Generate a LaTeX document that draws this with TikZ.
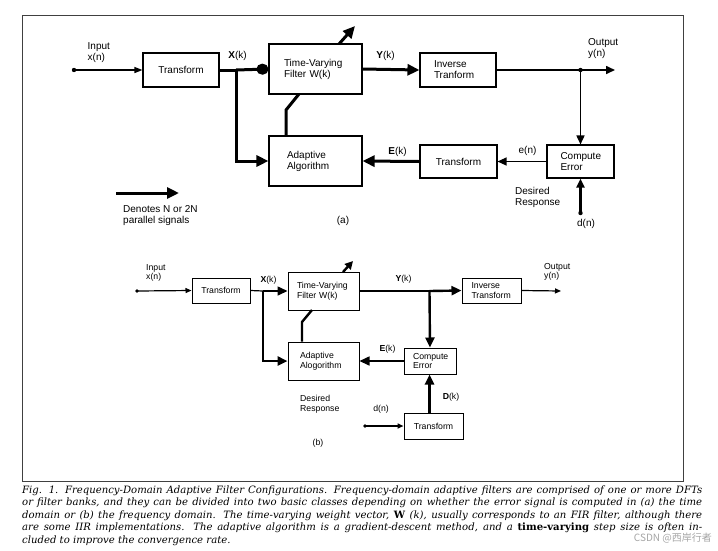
\documentclass[tikz,border=0pt]{standalone}
\usepackage{fontspec}
\setmainfont{Liberation Sans}
\newfontfamily\capfont{DejaVu Serif}
\newfontfamily\cjk{Noto Sans CJK SC}
\usetikzlibrary{arrows.meta}
\begin{document}
\begin{tikzpicture}[x=1pt,y=-1pt,
  boxa/.style={draw, line width=1.1pt, inner sep=0pt, font=\fontsize{10}{11}\selectfont},
  boxb/.style={draw, line width=1pt, inner sep=0pt, font=\fontsize{8.7}{9.7}\selectfont},
  lbla/.style={inner sep=0pt, align=left, font=\fontsize{10}{11}\selectfont},
  lblb/.style={inner sep=0pt, align=left, font=\fontsize{8.7}{9.7}\selectfont},
  thk/.style={line width=3pt, line join=miter},
  thkb/.style={line width=2.4pt, line join=miter},
  medl/.style={line width=1.6pt},
  thn/.style={line width=1.2pt},
  bigtip/.style={-{Triangle[length=12pt,width=11pt]}},
  midtip/.style={-{Triangle[length=9pt,width=8pt]}},
  smltip/.style={-{Triangle[length=8pt,width=6pt]}},
  btip/.style={-{Triangle[length=10pt,width=9pt]}},
  bstip/.style={-{Triangle[length=6pt,width=5pt]}},
  capline/.style={inner sep=0pt, anchor=base west, font=\capfont\itshape\fontsize{10.1}{12}\selectfont}
]
\useasboundingbox (0,0) rectangle (718,550);
\fill[white] (0,0) rectangle (718,550);
\draw[line width=0.8pt, black!75] (22,15) rectangle (683,481);

% ---------------- (a) ----------------
\node[boxa, minimum width=76pt, minimum height=34pt] (T1) at (181,70) {Transform};
\node[boxa, minimum width=93pt, minimum height=50pt, text width=63pt, align=left] (F1) at (315.5,69) {Time-Varying\\Filter W(k)};
\node[boxa, minimum width=93pt, minimum height=50pt, text width=57pt, align=left] (A1) at (315.5,161) {Adaptive\\Algorithm};
\node[boxa, minimum width=76pt, minimum height=34pt, text width=48pt, align=left] (I1) at (458,70) {Inverse\\Tranform};
\node[boxa, minimum width=67pt, minimum height=33pt, text width=40pt, align=left] (C1) at (580.5,161.5) {Compute\\Error};
\node[boxa, minimum width=77pt, minimum height=33pt] (T2) at (458.5,161.5) {Transform};

\coordinate (xin) at (74,70);
\coordinate (j1) at (236,70);
\coordinate (j2) at (580.5,70);
\coordinate (out1) at (615,70);
\coordinate (dn) at (580.5,213);
\coordinate (ak) at (286,110);
\coordinate (ak2) at (299,94);
\coordinate (dg1) at (339,44);
\coordinate (dg2) at (355,26);
\coordinate (lg1) at (116,193);
\coordinate (lg2) at (179,193);

\draw[thn, smltip] (xin) -- (T1.west);
\fill (xin) circle (2.2pt);
\draw[thk] (T1.east) -- (j1);
\draw[thk, -{Circle[length=12pt,width=11pt]}] (j1) -- (F1.west);
\draw[thk, bigtip] (j1) |- (A1.west);
\draw[thk, bigtip] (F1.east) -- (I1.west);
\draw[medl] (I1.east) -- (j2);
\draw[medl, midtip] (j2) -- (out1);
\fill (j2) circle (2.2pt);
\draw[medl, midtip] (j2) -- (C1.north);
\draw[thn, midtip] (C1.west) -- (T2.east);
\draw[thk, bigtip] (T2.west) -- (A1.east);
\draw[thkb, midtip] (dn) -- (C1.south);
\fill (dn) circle (2.2pt);
\draw[thk] (A1.north -| ak) -- (ak) -- (ak2);
\draw[thk, bigtip] (dg1) -- (dg2);
\draw[thk, bigtip] (lg1) -- (lg2);

\node[lbla, anchor=west] (lin) at (87.5,52.5) {Input\\x(n)};
\node[lbla] (lx) at (237.5,56) {\textbf{X}(k)};
\node[lbla] (ly) at (385.5,56) {\textbf{Y}(k)};
\node[lbla, anchor=west] (lout) at (588,48.5) {Output\\y(n)};
\node[lbla] (le) at (527.5,151) {e(n)};
\node[lbla] (lE) at (397.5,152) {\textbf{E}(k)};
\node[lbla, anchor=west] (ldes) at (515,197.5) {Desired\\Response};
\node[lbla] (ld) at (586,224) {d(n)};
\node[lbla, anchor=west] (lleg) at (123,216) {Denotes N or 2N\\parallel signals};
\node[lbla] (la) at (343,221) {(a)};

% ---------------- (b) ----------------
\node[boxb, minimum width=58pt, minimum height=25pt] (Tb1) at (221,290.5) {Transform};
\node[boxb, minimum width=71pt, minimum height=38pt, text width=53pt, align=left] (Fb) at (323.5,291) {Time-Varying\\Filter W(k)};
\node[boxb, minimum width=71pt, minimum height=38pt, text width=47pt, align=left] (Ab) at (323.5,361) {Adaptive\\Alogorithm};
\node[boxb, minimum width=59pt, minimum height=25pt, text width=40pt, align=left] (Ib) at (491.5,290.5) {Inverse\\Transform};
\node[boxb, minimum width=52pt, minimum height=26pt, text width=34pt, align=left] (Cb) at (430,361) {Compute\\Error};
\node[boxb, minimum width=59pt, minimum height=26pt] (Tb2) at (433.5,426) {Transform};

\coordinate (xb) at (137,291);
\coordinate (jb1) at (263,291);
\coordinate (jb2) at (429.5,291);
\coordinate (outb) at (561,291);
\coordinate (dnb) at (365,426);
\coordinate (bk) at (302,322);
\coordinate (bk2) at (312,310);
\coordinate (bd1) at (343,272);
\coordinate (bd2) at (353,261);

\draw[thn, bstip] (xb) -- (Tb1.west);
\fill (xb) circle (1.8pt);
\draw[thn] (Tb1.east) -- (jb1);
\draw[medl, btip] (jb1) -- (Fb.west);
\draw[thkb, btip] (jb1) |- (Ab.west);
\draw[thkb] (Fb.east) -- (jb2);
\draw[thkb, btip] (jb2) -- (Ib.west);
\draw[thn, bstip] (Ib.east) -- (outb);
\draw[thkb, btip] (jb2) -- (Cb.north);
\draw[medl, btip] (Cb.west) -- (Ab.east);
\draw[thkb, btip] (Tb2.north -| jb2) -- (Cb.south -| jb2);
\draw[medl, bstip] (dnb) -- (Tb2.west);
\fill (dnb) circle (1.8pt);
\draw[thkb] (Ab.north -| bk) -- (bk) -- (bk2);
\draw[thkb, -{Triangle[length=8pt,width=8pt]}] (bd1) -- (bd2);

\node[lblb, anchor=west] (lbin) at (146,273) {Input\\x(n)};
\node[lblb] (lbx) at (268.5,280) {\textbf{X}(k)};
\node[lblb] (lby) at (403.5,279) {\textbf{Y}(k)};
\node[lblb, anchor=west] (lbout) at (544,272) {Output\\y(n)};
\node[lblb] (lbE) at (387.5,349) {\textbf{E}(k)};
\node[lblb, anchor=west] (lbdes) at (300,404) {Desired\\Response};
\node[lblb] (lbd) at (381,409) {d(n)};
\node[lblb] (lbD) at (451,397) {\textbf{D}(k)};
\node[lblb] (lb) at (318,443) {(b)};

% ---------------- caption ----------------
\node[capline] (c1) at (22,493) {\makebox[680pt][s]{Fig. 1. Frequency-Domain Adaptive Filter Configurations. Frequency-domain adaptive filters are comprised of one or more DFTs}};
\node[capline] (c2) at (22,505.5) {\makebox[680pt][s]{or filter banks, and they can be divided into two basic classes depending on whether the error signal is computed in (a) the time}};
\node[capline] (c3) at (22,518) {\makebox[680pt][s]{domain or (b) the frequency domain. The time-varying weight vector, {\upshape\bfseries W} (k), usually corresponds to an FIR filter, although there}};
\node[capline] (c4) at (22,530.5) {\makebox[680pt][s]{are some IIR implementations. The adaptive algorithm is a gradient-descent method, and a {\upshape\bfseries time-varying} step size is often in-}};
\node[capline] (c5) at (22,543) {cluded to improve the convergence rate.};
\node[inner sep=0pt, anchor=base east, text=black!35, font=\cjk\fontsize{10}{12}\selectfont] (wm) at (712,541) {CSDN @西岸行者};
\end{tikzpicture}
\end{document}
